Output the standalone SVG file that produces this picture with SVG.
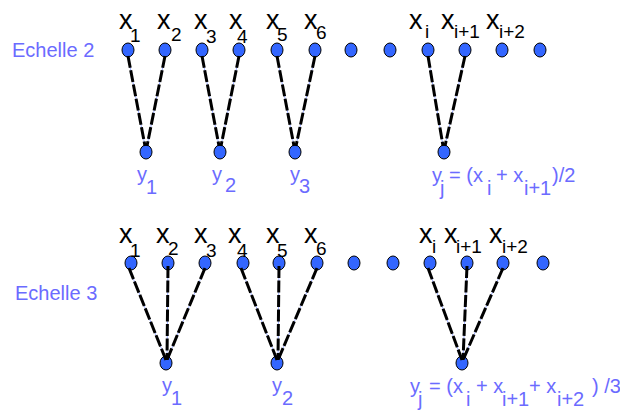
<svg xmlns="http://www.w3.org/2000/svg" width="620" height="410" viewBox="0 0 620 410">
<style>
.n{fill:#3366ff;stroke:#000;stroke-width:1}
.lb{font-family:"Liberation Sans",Arial,sans-serif;fill:#000}
.x{font-size:27px}
.s{font-size:19px}
.bl{font-family:"Liberation Sans",Arial,sans-serif;fill:#6b6bff;font-size:20px}
.base{stroke:#9fb0ff;stroke-width:1;fill:none}
.dash{stroke:#000;stroke-width:3;stroke-dasharray:12 2.5;fill:none}
</style>
<rect width="620" height="410" fill="#fff"/>
<text class="bl" x="12" y="57" font-size="19">Echelle 2</text>
<text class="bl" x="15" y="300" font-size="19">Echelle 3</text>

<!-- Row 1 top nodes -->
<g id="r1x1"><ellipse class="n" cx="128" cy="50" rx="6" ry="7"/><text class="lb x" x="119" y="29">x</text><text class="lb s" x="130" y="42">1</text></g>
<g id="r1x2"><ellipse class="n" cx="165" cy="50" rx="6" ry="7"/><text class="lb x" x="157" y="29">x</text><text class="lb s" x="171" y="41">2</text></g>
<g id="r1x3"><ellipse class="n" cx="202" cy="50" rx="6" ry="7"/><text class="lb x" x="194" y="29">x</text><text class="lb s" x="206" y="43">3</text></g>
<g id="r1x4"><ellipse class="n" cx="239" cy="50" rx="6" ry="7"/><text class="lb x" x="229" y="29">x</text><text class="lb s" x="237" y="43">4</text></g>
<g id="r1x5"><ellipse class="n" cx="277" cy="50" rx="6" ry="7"/><text class="lb x" x="266" y="29">x</text><text class="lb s" x="277" y="41">5</text></g>
<g id="r1x6"><ellipse class="n" cx="315" cy="50" rx="6" ry="7"/><text class="lb x" x="304" y="29">x</text><text class="lb s" x="316" y="39">6</text></g>
<g id="r1d1"><ellipse class="n" cx="351" cy="50" rx="6" ry="7"/></g>
<g id="r1d2"><ellipse class="n" cx="390" cy="50" rx="6" ry="7"/></g>
<g id="r1xi"><ellipse class="n" cx="428" cy="50" rx="6" ry="7"/><text class="lb x" x="409" y="29">x</text><text class="lb s" x="425" y="38">i</text></g>
<g id="r1xi1"><ellipse class="n" cx="465" cy="50" rx="6" ry="7"/><text class="lb x" x="441" y="29">x</text><text class="lb s" x="454" y="38">i+1</text></g>
<g id="r1xi2"><ellipse class="n" cx="502" cy="50" rx="6" ry="7"/><text class="lb x" x="486" y="29">x</text><text class="lb s" x="499" y="38">i+2</text></g>
<g id="r1d3"><ellipse class="n" cx="540" cy="50" rx="6" ry="7"/></g>

<!-- Row 1 bottom nodes -->
<g id="r1y1"><ellipse class="n" cx="146" cy="152" rx="6" ry="7"/><text class="bl" x="137" y="181">y</text><text class="bl" x="146" y="194">1</text></g>
<g id="r1y2"><ellipse class="n" cx="220" cy="152" rx="6" ry="7"/><text class="bl" x="212" y="181">y</text><text class="bl" x="225" y="192">2</text></g>
<g id="r1y3"><ellipse class="n" cx="295" cy="152" rx="6" ry="7"/><text class="bl" x="290" y="181">y</text><text class="bl" x="299" y="193">3</text></g>
<g id="r1yj"><ellipse class="n" cx="444" cy="152" rx="6" ry="7"/>
<text class="bl" x="432" y="182">y</text><text class="bl" x="440" y="195">j</text><text class="bl" x="449" y="182">= (x</text><text class="bl" x="487" y="195">i</text><text class="bl" x="496" y="182">+ x</text><text class="bl" x="524" y="195">i+1</text><text class="bl" x="552" y="182">)/2</text></g>

<!-- Row 2 top nodes -->
<g id="r2x1"><ellipse class="n" cx="131" cy="263" rx="6" ry="7"/><text class="lb x" x="119" y="243">x</text><text class="lb s" x="130" y="257">1</text></g>
<g id="r2x2"><ellipse class="n" cx="168" cy="263" rx="6" ry="7"/><text class="lb x" x="156" y="243">x</text><text class="lb s" x="168" y="255">2</text></g>
<g id="r2x3"><ellipse class="n" cx="205" cy="263" rx="6" ry="7"/><text class="lb x" x="194" y="243">x</text><text class="lb s" x="206" y="257">3</text></g>
<g id="r2x4"><ellipse class="n" cx="243" cy="263" rx="6" ry="7"/><text class="lb x" x="228" y="243">x</text><text class="lb s" x="237" y="257">4</text></g>
<g id="r2x5"><ellipse class="n" cx="279" cy="263" rx="6" ry="7"/><text class="lb x" x="266" y="243">x</text><text class="lb s" x="277" y="257">5</text></g>
<g id="r2x6"><ellipse class="n" cx="317" cy="263" rx="6" ry="7"/><text class="lb x" x="304" y="243">x</text><text class="lb s" x="316" y="255">6</text></g>
<g id="r2d1"><ellipse class="n" cx="354" cy="263" rx="6" ry="7"/></g>
<g id="r2d2"><ellipse class="n" cx="393" cy="263" rx="6" ry="7"/></g>
<g id="r2xi"><ellipse class="n" cx="430" cy="263" rx="6" ry="7"/><text class="lb x" x="419" y="243">x</text><text class="lb s" x="432" y="253">i</text></g>
<g id="r2xi1"><ellipse class="n" cx="467" cy="263" rx="6" ry="7"/><text class="lb x" x="444" y="243">x</text><text class="lb s" x="456" y="253">i+1</text></g>
<g id="r2xi2"><ellipse class="n" cx="503" cy="263" rx="6" ry="7"/><text class="lb x" x="489" y="243">x</text><text class="lb s" x="502" y="253">i+2</text></g>
<g id="r2d3"><ellipse class="n" cx="543" cy="263" rx="6" ry="7"/></g>

<!-- Row 2 bottom nodes -->
<g id="r2y1"><ellipse class="n" cx="166" cy="363" rx="6" ry="7"/><text class="bl" x="162" y="392">y</text><text class="bl" x="171" y="405">1</text></g>
<g id="r2y2"><ellipse class="n" cx="277" cy="363" rx="6" ry="7"/><text class="bl" x="272" y="392">y</text><text class="bl" x="282" y="405">2</text></g>
<g id="r2yj"><ellipse class="n" cx="462" cy="363" rx="6" ry="7"/>
<text class="bl" x="410" y="393">y</text><text class="bl" x="418" y="406">j</text><text class="bl" x="429" y="393">= (x</text><text class="bl" x="466" y="406">i</text><text class="bl" x="476" y="393">+ x</text><text class="bl" x="502" y="406">i+1</text><text class="bl" x="529" y="393">+ x</text><text class="bl" x="557" y="406">i+2</text><text class="bl" x="592" y="393">) /3</text></g>

<!-- Connectors -->
<g id="connectors">
<g class="base">
<line x1="128" y1="56" x2="145" y2="146"/><line x1="165" y1="56" x2="147" y2="146"/>
<line x1="202" y1="56" x2="219" y2="146"/><line x1="239" y1="56" x2="221" y2="146"/>
<line x1="277" y1="56" x2="294" y2="146"/><line x1="315" y1="56" x2="296" y2="146"/>
<line x1="428" y1="56" x2="443" y2="146"/><line x1="465" y1="56" x2="445" y2="146"/>
<line x1="129" y1="268" x2="166" y2="360"/><line x1="168" y1="266" x2="167" y2="360"/><line x1="205" y1="268" x2="167" y2="360"/>
<line x1="241" y1="268" x2="277" y2="360"/><line x1="279" y1="266" x2="278" y2="360"/><line x1="317" y1="268" x2="278" y2="360"/>
<line x1="428" y1="268" x2="462" y2="360"/><line x1="467" y1="266" x2="463" y2="360"/><line x1="503" y1="268" x2="463" y2="360"/>
</g>
<g class="dash">
<line x1="128" y1="56" x2="145" y2="146"/><line x1="165" y1="56" x2="147" y2="146"/>
<line x1="202" y1="56" x2="219" y2="146"/><line x1="239" y1="56" x2="221" y2="146"/>
<line x1="277" y1="56" x2="294" y2="146"/><line x1="315" y1="56" x2="296" y2="146"/>
<line x1="428" y1="56" x2="443" y2="146"/><line x1="465" y1="56" x2="445" y2="146"/>
<line x1="129" y1="268" x2="166" y2="360"/><line x1="168" y1="266" x2="167" y2="360"/><line x1="205" y1="268" x2="167" y2="360"/>
<line x1="241" y1="268" x2="277" y2="360"/><line x1="279" y1="266" x2="278" y2="360"/><line x1="317" y1="268" x2="278" y2="360"/>
<line x1="428" y1="268" x2="462" y2="360"/><line x1="467" y1="266" x2="463" y2="360"/><line x1="503" y1="268" x2="463" y2="360"/>
</g>
</g>
</svg>
